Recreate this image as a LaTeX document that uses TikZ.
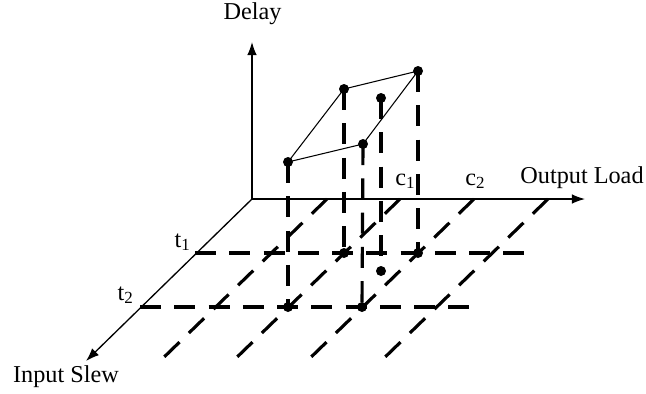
\documentclass[tikz,border=0pt]{standalone}
\usepackage{fontspec}
\setmainfont{Liberation Serif}
\usetikzlibrary{arrows.meta}
\begin{document}
\begin{tikzpicture}[x=0.02cm,y=-0.02cm,
	axis/.style={line width=0.75pt,-{Latex[length=7.5pt,width=5.5pt]}},
	gridline/.style={line width=1.8pt,dash pattern=on 12pt off 7.5pt},
	surf/.style={line width=0.6pt},
	dot/.style={circle,fill,inner sep=0pt,minimum size=0.2cm},
	lbl/.style={inner sep=0pt,font=\fontsize{13.8}{16}\selectfont}]
	\useasboundingbox (0,0) rectangle (646,393);
	% axes
	\coordinate (O) at (252,199);
	\coordinate (D) at (252,42);
	\coordinate (L) at (585,199);
	\coordinate (S) at (86,361);
	% table grid
	\draw[gridline] (195,253) -- (531,253);
	\draw[gridline] (140,307) -- (475,307);
	\foreach \c in {327,400,474,548}
		\draw[gridline] (\c,199) -- ++(-168,163);
	\draw[axis] (O) -- (D);
	\draw[axis] (O) -- (L);
	\draw[axis] (O) -- (S);
	% labels
	\node[lbl,anchor=base] (delay) at (252.5,19) {Delay};
	\node[lbl,anchor=base] (load) at (582,183) {Output Load};
	\node[lbl,anchor=base] (slew) at (66,382) {Input Slew};
	\node[lbl,anchor=base east] (t1) at (191,247) {t\textsubscript{1}};
	\node[lbl,anchor=base east] (t2) at (134,300) {t\textsubscript{2}};
	\node[lbl,anchor=base west] (c1) at (395,185) {c\textsubscript{1}};
	\node[lbl,anchor=base west] (c2) at (465,185) {c\textsubscript{2}};
	% points on the grid
	\node[dot] (g11) at (344,253) {};
	\node[dot] (g21) at (418,253) {};
	\node[dot] (g12) at (288,307) {};
	\node[dot] (g22) at (362,307) {};
	\node[dot] (gm) at (381,271) {};
	% delay values
	\node[dot] (p11) at (344,89) {};
	\node[dot] (p21) at (418,71) {};
	\node[dot] (p12) at (288,162) {};
	\node[dot] (p22) at (363,144) {};
	\node[dot] (pm) at (381,98) {};
	\foreach \a/\b in {p11/g11,p21/g21,p12/g12,p22/g22,pm/gm}
		\draw[gridline] (\a.center) -- (\b.center);
	\draw[surf] (p12.center) -- (p11.center) -- (p21.center) -- (p22.center) -- cycle;
\end{tikzpicture}
\end{document}
